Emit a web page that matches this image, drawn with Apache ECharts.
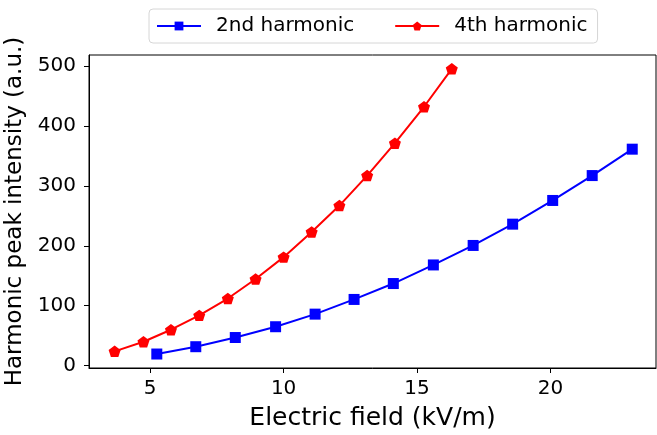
<!DOCTYPE html>
<html>
<head>
<meta charset="utf-8">
<script src="https://cdn.jsdelivr.net/npm/echarts@6/dist/echarts.min.js"></script>
<style>
  html, body { margin: 0; padding: 0; background: #fff; }
  #main { width: 657px; height: 435px; }
</style>
</head>
<body>
<div id="main"></div>
<script>
// 2nd harmonic (blue squares)
const field2 = [5.25, 6.71, 8.19, 9.7, 11.18, 12.64, 14.11, 15.61, 17.1, 18.58, 20.08, 21.56, 23.06];
const peak2 = [19.5, 31.7, 47, 65, 86, 110.5, 137, 168, 200.5, 236, 275.5, 317, 361];
// 4th harmonic (red pentagons)
const field4 = [3.67, 4.75, 5.78, 6.84, 7.91, 8.95, 10.0, 11.05, 12.09, 13.13, 14.17, 15.26, 16.3];
const peak4 = [24, 40, 60, 84, 112, 144.5, 181, 223, 267, 317, 371, 431.7, 495];

const xTicks = [5, 10, 15, 20];
const yTicks = [0, 100, 200, 300, 400, 500];

const FONT = 'DejaVu Sans';
const pentagon = 'path://M0 -1 L0.951 -0.309 L0.588 0.809 L-0.588 0.809 L-0.951 -0.309 Z';

function zip(xs, ys) {
  return xs.map((x, i) => [x, ys[i]]);
}

const chart = echarts.init(document.getElementById('main'), null, { renderer: 'canvas' });

const option = {
  animation: false,
  textStyle: { fontFamily: FONT },
  legend: {
    top: 9,
    left: 149,
    data: ['2nd harmonic', '4th harmonic'],
    itemWidth: 44,
    itemHeight: 11,
    itemGap: 40,
    padding: [7, 10, 7, 7],
    borderColor: '#d6d6d6',
    borderWidth: 1,
    borderRadius: 4,
    textStyle: { fontFamily: FONT, fontSize: 20, color: '#000', padding: [0, 0, 0, 10] },
  },
  grid: {
    left: 89,
    right: 1,
    top: 55,
    bottom: 67,
    show: true,
    borderColor: '#000',
    borderWidth: 1,
    containLabel: false,
    outerBoundsMode: 'none',
  },
  xAxis: {
    type: 'value',
    min: 2.71,
    max: 23.95,
    name: 'Electric field (kV/m)',
    nameLocation: 'middle',
    nameGap: 38,
    nameTextStyle: { fontFamily: FONT, fontSize: 25, color: '#000' },
    splitLine: { show: false },
    axisLine: { show: true, onZero: false, lineStyle: { color: '#000', width: 1 } },
    axisTick: { show: true, inside: false, length: 5, customValues: xTicks, lineStyle: { color: '#000' } },
    axisLabel: { show: true, customValues: xTicks, fontFamily: FONT, fontSize: 20, color: '#000', margin: 11 },
  },
  yAxis: {
    type: 'value',
    min: -3.8,
    max: 518,
    name: 'Harmonic peak intensity (a.u.)',
    nameLocation: 'middle',
    nameGap: 56,
    nameRotate: 90,
    nameTextStyle: { fontFamily: FONT, fontSize: 23, color: '#000' },
    splitLine: { show: false },
    axisLine: { show: true, onZero: false, lineStyle: { color: '#000', width: 1 } },
    axisTick: { show: true, inside: false, length: 5, customValues: yTicks, lineStyle: { color: '#000' } },
    axisLabel: { show: true, customValues: yTicks, fontFamily: FONT, fontSize: 20, color: '#000', margin: 13 },
  },
  series: [
    {
      name: '2nd harmonic',
      type: 'line',
      data: zip(field2, peak2),
      symbol: 'rect',
      symbolSize: 11,
      showAllSymbol: true,
      color: '#0000ff',
      lineStyle: { color: '#0000ff', width: 2 },
      itemStyle: { color: '#0000ff' },
    },
    {
      name: '4th harmonic',
      type: 'line',
      data: zip(field4, peak4),
      symbol: pentagon,
      symbolSize: [12, 11.4],
      showAllSymbol: true,
      color: '#ff0000',
      lineStyle: { color: '#ff0000', width: 2 },
      itemStyle: { color: '#ff0000' },
    },
  ],
};

chart.setOption(option);
</script>
</body>
</html>
